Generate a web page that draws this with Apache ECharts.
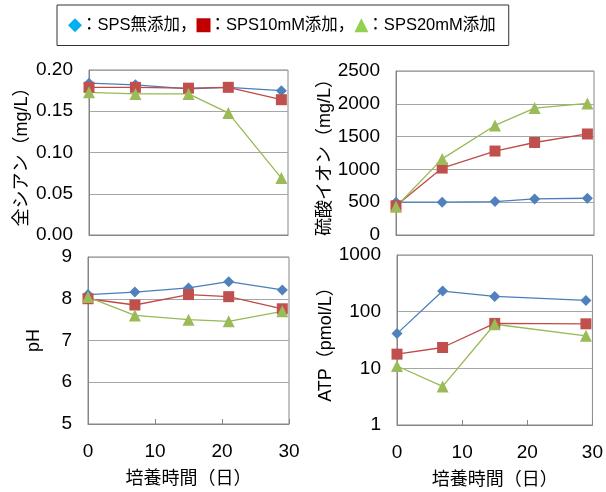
<!DOCTYPE html>
<html><head><meta charset="utf-8">
<script src="https://cdn.jsdelivr.net/npm/echarts@6/dist/echarts.min.js"></script>
<style>html,body{margin:0;padding:0;background:#fff}#c{width:606px;height:492px}</style>
</head><body><div id="c"></div>
<script>
const seriesNames = ['：SPS無添加，', '：SPS10mM添加，', '：SPS20mM添加'];
const days = [0, 7, 15, 21, 29];
const atpDays = [0, 7, 15, 29];
const cyanNone = [0.184, 0.182, 0.177, 0.179, 0.175];
const cyan10 = [0.179, 0.179, 0.178, 0.179, 0.164];
const cyan20 = [0.173, 0.171, 0.171, 0.148, 0.069];
const sulfNone = [500, 500, 510, 550, 560];
const sulf10 = [445, 1020, 1280, 1410, 1540];
const sulf20 = [430, 1160, 1670, 1935, 2005];
const phNone = [8.10, 8.16, 8.26, 8.41, 8.21];
const ph10 = [8.00, 7.85, 8.10, 8.05, 7.76];
const ph20 = [8.04, 7.60, 7.50, 7.46, 7.70];
const atpNone = [41, 231, 186, 158];
const atp10 = [17.8, 23.3, 62, 61];
const atp20 = [11, 4.8, 60, 37.5];
const yNames = ['全シアン（mg/L）', '硫酸イオン（mg/L）', 'pH', 'ATP（pmol/L）'];
const xName = '培養時間（日）';

const FONT = '"Liberation Sans", "Noto Sans CJK JP", sans-serif';
const lineColors = ['#4a7ebb', '#be4b48', '#98b954'];
const markColors = ['#4f81bd', '#c0504d', '#9bbb59'];
const symbols = ['diamond', 'rect', 'triangle'];
const symSizes = [11, 11, 12];
const legendColors = ['#00b0f0', '#c00000', '#92d050'];

function pairs(xs, ys) { return xs.map((x, i) => [x, ys[i]]); }

const grids = [
  {left: 89, top: 70, width: 199, height: 165},
  {left: 396, top: 71, width: 198, height: 164},
  {left: 88, top: 257, width: 201, height: 167},
  {left: 397, top: 255, width: 196, height: 170}
];
const panelData = [
  [pairs(days, cyanNone), pairs(days, cyan10), pairs(days, cyan20)],
  [pairs(days, sulfNone), pairs(days, sulf10), pairs(days, sulf20)],
  [pairs(days, phNone), pairs(days, ph10), pairs(days, ph20)],
  [pairs(atpDays, atpNone), pairs(atpDays, atp10), pairs(atpDays, atp20)]
];
const yCfg = [
  {type: 'value', min: 0, max: 0.2, interval: 0.05, fmt: v => v.toFixed(2), gap: 58},
  {type: 'value', min: 0, max: 2500, interval: 500, fmt: v => String(v), gap: 62},
  {type: 'value', min: 5, max: 9, interval: 1, fmt: v => String(v), gap: 45},
  {type: 'log', min: 1, max: 1000, fmt: v => String(v), gap: 51}
];
const axisGray = '#868686';

const xAxes = grids.map((g, i) => ({
  type: 'value', gridIndex: i, min: 0, max: 30, interval: 10,
  axisLine: {show: true, onZero: false, lineStyle: {color: axisGray, width: 1}},
  axisTick: {show: i >= 2, inside: true, length: 5, lineStyle: {color: axisGray}},
  axisLabel: {show: i >= 2, margin: 18, fontFamily: FONT, fontSize: 19, color: '#000'},
  splitLine: {show: false},
  name: i >= 2 ? xName : '', nameLocation: 'middle', nameGap: 46,
  nameTextStyle: {fontFamily: FONT, fontSize: 18, color: '#000'}
}));
const yAxes = grids.map((g, i) => {
  const c = yCfg[i];
  const ax = {
    type: c.type, gridIndex: i, min: c.min, max: c.max,
    axisLine: {show: true, lineStyle: {color: axisGray, width: 1}},
    axisTick: {show: false},
    axisLabel: {margin: 16, formatter: c.fmt, fontFamily: FONT, fontSize: 19, color: '#000'},
    splitLine: {show: true, lineStyle: {color: '#a6a6a6', width: 1}},
    name: yNames[i], nameLocation: 'middle', nameGap: c.gap, nameRotate: 90,
    nameTextStyle: {fontFamily: FONT, fontSize: 18, color: '#000'}
  };
  if (c.interval) ax.interval = c.interval;
  if (c.type === 'log') ax.logBase = 10;
  return ax;
});
const series = [];
panelData.forEach((sets, gi) => {
  sets.forEach((d, si) => {
    series.push({
      type: 'line', name: seriesNames[si], xAxisIndex: gi, yAxisIndex: gi,
      data: d, symbol: symbols[si], symbolSize: symSizes[si],
      lineStyle: {color: lineColors[si], width: 1.3},
      itemStyle: {color: markColors[si]},
      animation: false
    });
  });
});

const chart = echarts.init(document.getElementById('c'), null, {renderer: 'canvas'});
chart.setOption({
  animation: false,
  backgroundColor: '#fff',
  legend: {
    left: 57, top: 5, padding: [12, 13, 12, 11],
    borderColor: '#333', borderWidth: 1,
    itemGap: 0, itemWidth: 14, itemHeight: 14,
    textStyle: {fontFamily: FONT, fontSize: 16.5, color: '#000', padding: [0, 0, 0, -6]},
    data: seriesNames.map((n, i) => ({name: n, icon: symbols[i], itemStyle: {color: legendColors[i]}}))
  },
  grid: grids.map(g => Object.assign({show: true, borderColor: axisGray, borderWidth: 1}, g)),
  xAxis: xAxes,
  yAxis: yAxes,
  series: series
});
</script></body></html>
